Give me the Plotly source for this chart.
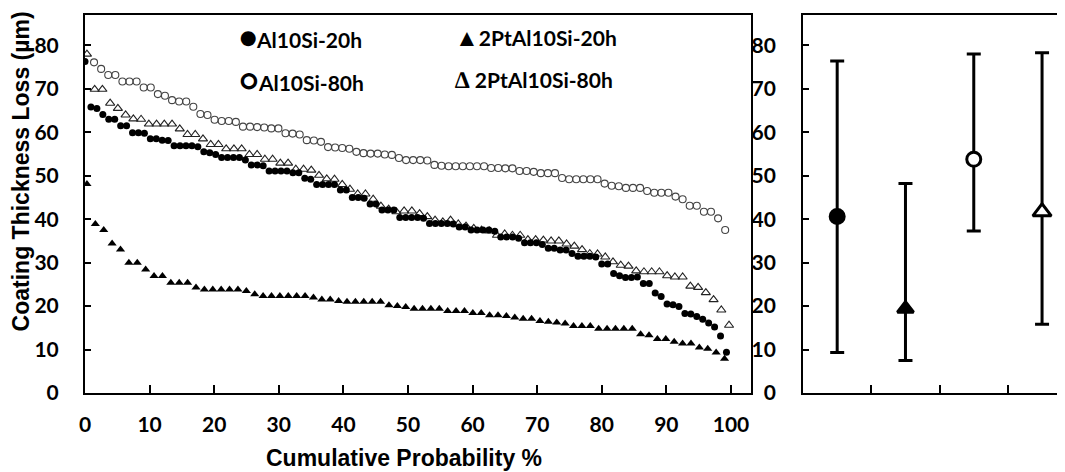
import numpy as np
import plotly.graph_objects as go

# ---- data --------------------------------------------------------------------
# coating thickness loss (um), sorted from largest to smallest
al10si_20h = [76.3, 65.8, 65.5, 64.1, 63.0, 63.0, 61.5, 61.5, 59.9, 59.9,
              59.8, 58.5, 58.5, 58.2, 58.1, 56.9, 56.9, 56.9, 56.9, 56.7,
              55.5, 55.3, 54.9, 54.2, 54.2, 54.2, 54.2, 53.6, 52.5, 52.5,
              52.3, 51.1, 51.1, 51.1, 51.1, 50.7, 50.7, 49.4, 49.2, 48.0,
              48.0, 48.0, 48.0, 46.7, 46.7, 45.0, 45.0, 44.8, 43.5, 43.5,
              42.1, 42.1, 42.1, 40.4, 40.4, 40.4, 40.4, 40.2, 39.0, 39.0,
              39.0, 39.0, 38.9, 38.2, 38.2, 37.5, 37.5, 37.5, 37.5, 37.2,
              35.9, 35.9, 35.9, 35.6, 34.6, 34.6, 34.6, 34.2, 33.3, 33.3,
              32.9, 32.9, 32.1, 31.5, 31.5, 31.5, 31.3, 29.7, 29.7, 27.5,
              27.0, 26.6, 26.6, 26.7, 25.2, 25.2, 23.0, 22.2, 20.5, 20.3,
              19.9, 18.3, 18.2, 17.6, 17.0, 16.1, 15.2, 13.1, 9.4]

al10si_80h = [76.1, 74.6, 73.2, 73.2, 71.7, 71.7, 71.7, 70.3, 70.3, 68.8,
              68.4, 67.4, 67.1, 67.1, 65.9, 64.2, 64.0, 62.9, 62.6, 62.6,
              62.4, 61.3, 61.3, 61.2, 61.1, 60.9, 60.9, 59.8, 59.7, 59.5,
              58.2, 58.1, 57.8, 56.6, 56.5, 56.4, 56.2, 55.5, 55.2, 55.1,
              55.1, 54.9, 54.8, 54.1, 53.6, 53.6, 53.6, 53.5, 52.5, 52.3,
              52.2, 52.2, 52.2, 52.2, 52.2, 52.2, 51.8, 51.8, 51.7, 51.7,
              51.1, 51.1, 50.9, 50.6, 50.6, 50.6, 49.5, 49.2, 49.2, 49.2,
              49.2, 49.2, 48.2, 47.7, 47.6, 47.2, 47.2, 47.2, 46.5, 46.1,
              46.1, 46.1, 45.2, 44.6, 43.1, 43.1, 41.7, 41.7, 40.2, 37.5]

pt_20h = [48.1, 38.9, 37.5, 34.4, 33.0, 30.0, 30.0, 28.4, 26.9, 26.9,
          25.4, 25.4, 25.4, 24.3, 23.8, 23.8, 23.8, 23.8, 23.8, 23.5,
          22.7, 22.3, 22.3, 22.3, 22.3, 22.3, 22.3, 22.0, 21.5, 21.5,
          21.2, 21.0, 21.0, 21.0, 21.0, 21.0, 20.2, 20.0, 19.8, 19.4,
          19.4, 19.4, 19.4, 18.9, 18.9, 18.9, 18.4, 18.4, 17.9, 17.9,
          17.7, 17.4, 17.1, 17.1, 16.6, 16.4, 16.2, 16.0, 15.4, 15.4,
          15.4, 14.8, 14.8, 14.8, 14.8, 14.8, 13.5, 13.3, 12.4, 12.4,
          11.8, 11.4, 11.4, 10.5, 10.2, 9.3, 7.9]

pt_80h = [78.0, 69.9, 69.9, 66.7, 65.5, 64.0, 63.1, 63.0, 61.9, 61.9,
          61.9, 61.9, 60.8, 59.5, 59.5, 58.5, 57.2, 57.2, 56.2, 56.2,
          56.2, 54.9, 54.9, 53.8, 53.8, 52.9, 52.9, 51.5, 51.5, 51.3,
          50.1, 49.3, 49.2, 48.0, 46.9, 45.8, 45.8, 44.6, 43.0, 42.3,
          41.7, 41.9, 41.9, 41.3, 40.6, 39.8, 39.4, 39.8, 38.9, 38.4,
          37.9, 37.5, 37.3, 36.3, 36.6, 36.3, 36.3, 35.3, 35.3, 35.2,
          35.0, 35.0, 34.3, 33.8, 33.0, 32.1, 32.0, 31.3, 30.2, 29.4,
          29.2, 28.1, 27.9, 27.9, 27.9, 27.0, 26.7, 26.7, 24.6, 24.3,
          23.1, 21.5, 19.1, 15.6]

# first / last cumulative probability (%) of each ranked series
prob_span = {'al10si_20h': (0.0, 99.3), 'al10si_80h': (1.4, 99.1),
             'pt_20h': (0.3, 99.0), 'pt_80h': (0.3, 99.7)}

# summary panel: mean with min / max bars
groups = ['Al10Si-20h', '2PtAl10Si-20h', 'Al10Si-80h', '2PtAl10Si-80h']
means = [40.6, 19.4, 53.8, 41.7]
upper = [76.4, 48.2, 78.0, 78.3]
lower = [9.3, 7.5, 37.3, 15.8]


def cum_prob(vals, key):
    a, b = prob_span[key]
    return np.linspace(a, b, len(vals))


fig = go.Figure()

# left panel ---------------------------------------------------------------
fig.add_trace(go.Scatter(x=cum_prob(pt_80h, 'pt_80h'), y=pt_80h, mode='markers',
                         marker=dict(symbol='triangle-up-open', size=8, color='#222',
                                     line=dict(width=1.1)),
                         name='2PtAl10Si-80h'))
fig.add_trace(go.Scatter(x=cum_prob(al10si_80h, 'al10si_80h'), y=al10si_80h, mode='markers',
                         marker=dict(symbol='circle-open', size=7, color='#444',
                                     line=dict(width=1.1)),
                         name='Al10Si-80h'))
fig.add_trace(go.Scatter(x=cum_prob(pt_20h, 'pt_20h'), y=pt_20h, mode='markers',
                         marker=dict(symbol='triangle-up', size=8, color='black'),
                         name='2PtAl10Si-20h'))
fig.add_trace(go.Scatter(x=cum_prob(al10si_20h, 'al10si_20h'), y=al10si_20h, mode='markers',
                         marker=dict(symbol='circle', size=7, color='black'),
                         name='Al10Si-20h'))

# right panel --------------------------------------------------------------
sym = ['circle', 'triangle-up', 'circle', 'triangle-up']
fill = ['black', 'black', 'white', 'white']
msize = [14, 14, 14, 16]
for i in range(4):
    fig.add_trace(go.Scatter(
        x=[i + 1], y=[means[i]], mode='markers', xaxis='x2', yaxis='y2',
        marker=dict(symbol=sym[i], size=msize[i], color=fill[i],
                    line=dict(color='black', width=3)),
        error_y=dict(type='data', symmetric=False,
                     array=[upper[i] - means[i]], arrayminus=[means[i] - lower[i]],
                     color='black', thickness=3, width=7),
        name=groups[i]))

tickfont = dict(family='Lato', size=21, color='black', weight='bold')
axis_common = dict(showline=True, linecolor='black', linewidth=2, showgrid=False,
                   zeroline=False, ticks='inside', tickcolor='black', tickwidth=2,
                   tickfont=tickfont, automargin=False)

# the page adds an 8px body margin, so the figure is laid out 8px up/left
fig.update_layout(
    width=1065, height=472,
    paper_bgcolor='white', plot_bgcolor='white',
    margin=dict(l=77, r=8, t=7, b=87),
    showlegend=False,
    xaxis=dict(domain=[0, 0.6796], range=[0, 103.1], tickvals=list(range(0, 101, 10)),
               ticklen=8, mirror=True, ticklabelstandoff=12, **axis_common),
    yaxis=dict(range=[0, 87], tickvals=list(range(0, 81, 10)), ticklen=6, mirror=True,
               ticklabelstandoff=20, **axis_common),
    xaxis2=dict(domain=[0.7327, 1.0], range=[0.5, 4.336], anchor='y2',
                tickvals=[0.5, 1.5, 2.5, 3.5, 4.5], ticktext=['', '', '', '', ''],
                ticklen=8, mirror=True, **axis_common),
    yaxis2=dict(range=[0, 87], anchor='x2', tickvals=list(range(0, 81, 10)), ticklen=6,
                ticklabelstandoff=21, **axis_common),
)

# axis titles
title_font = dict(family='Liberation Sans', size=23, color='black', weight='bold')
fig.add_annotation(text='Coating Thickness Loss (µm)', xref='paper', yref='paper',
                   x=-0.0658, y=0.585, textangle=-90, showarrow=False, borderpad=0,
                   xanchor='center', yanchor='middle', font=title_font)
fig.add_annotation(text='Cumulative Probability %', xref='paper', yref='paper',
                   x=0.3255, y=-0.172, showarrow=False,
                   xanchor='center', yanchor='middle', font=title_font)

# legend written as text, as in the original
legend_font = dict(family='Lato', size=21, color='black', weight='bold')
legend_items = [('<span style="font-size:30px">●</span>Al10Si-20h', 0.1548, 0.944),
                ('<span style="font-size:24px">▲</span>2PtAl10Si-20h', 0.3755, 0.944),
                ('<span style="font-size:30px">○</span>Al10Si-80h', 0.1548, 0.831),
                ('<span style="font-size:24px">∆</span> 2PtAl10Si-80h', 0.3755, 0.831)]
for txt, lx, ly in legend_items:
    fig.add_annotation(text=txt, xref='paper', yref='paper', x=lx, y=ly,
                       xanchor='left', yanchor='middle', showarrow=False, font=legend_font)

fig.write_html("out.html")
